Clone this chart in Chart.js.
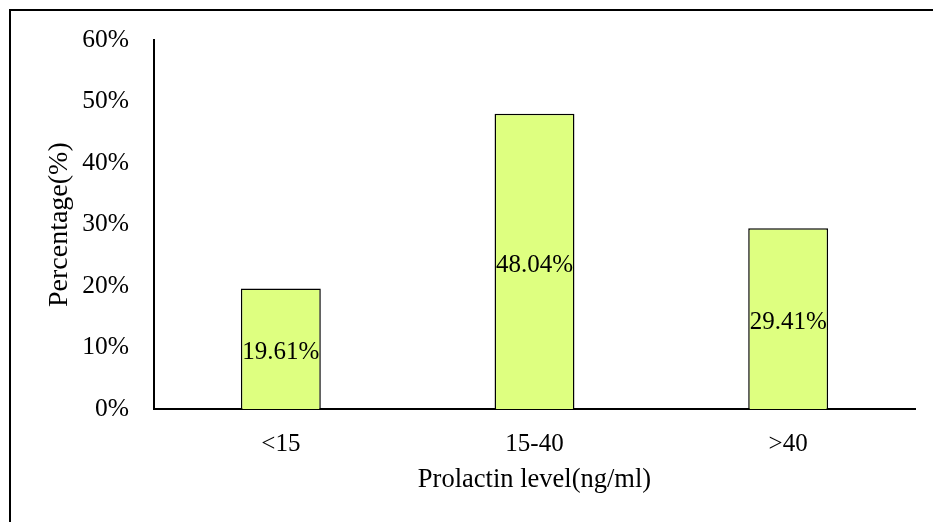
<!DOCTYPE html>
<html>
<head>
<meta charset="utf-8">
<script src="https://cdn.jsdelivr.net/npm/chart.js@4/dist/chart.umd.min.js"></script>
<style>
  html, body { margin: 0; padding: 0; background: #ffffff; }
  canvas { display: block; }
</style>
</head>
<body>
<canvas id="c" width="933" height="522"></canvas>
<script>
const categories = ['<15', '15-40', '>40'];
const percentages = [19.61, 48.04, 29.41];
const yTickValues = [0, 10, 20, 30, 40, 50, 60];
const xAxisTitle = 'Prolactin level(ng/ml)';
const yAxisTitle = 'Percentage(%)';

const FONT = 'Liberation Serif, Times New Roman, serif';

const frame = {
  id: 'frame',
  beforeDraw(chart) {
    const ctx = chart.ctx;
    ctx.save();
    ctx.fillStyle = '#ffffff';
    ctx.fillRect(0, 0, chart.width, chart.height);
    ctx.strokeStyle = '#000000';
    ctx.lineWidth = 2;
    ctx.strokeRect(10, 10, chart.width + 20, chart.height + 20);
    ctx.restore();
  }
};

const barLabels = {
  id: 'barLabels',
  afterDatasetsDraw(chart) {
    const ctx = chart.ctx;
    const meta = chart.getDatasetMeta(0);
    ctx.save();
    ctx.font = '25px ' + FONT;
    ctx.fillStyle = '#000000';
    ctx.textAlign = 'center';
    ctx.textBaseline = 'middle';
    meta.data.forEach((bar, i) => {
      const v = chart.data.datasets[0].data[i];
      const cy = (bar.y + bar.base) / 2;
      ctx.fillText(v.toFixed(2) + '%', bar.x, cy + 4);
    });
    ctx.restore();
  }
};

new Chart(document.getElementById('c'), {
  type: 'bar',
  data: {
    labels: categories,
    datasets: [{
      data: percentages,
      backgroundColor: 'rgb(222,255,128)',
      borderColor: '#000000',
      borderWidth: 1.5,
      barPercentage: 0.315,
      categoryPercentage: 1.0
    }]
  },
  options: {
    responsive: false,
    animation: false,
    layout: { padding: { top: 39, right: 18, bottom: 0, left: 0 } },
    plugins: {
      legend: { display: false },
      tooltip: { enabled: false }
    },
    scales: {
      x: {
        offset: true,
        grid: { display: false, drawTicks: false },
        border: { display: true, color: '#000000', width: 2 },
        ticks: { color: '#000000', font: { family: FONT, size: 25 }, padding: 20 },
        title: {
          display: true, text: xAxisTitle, color: '#000000',
          font: { family: FONT, size: 26.5 }, padding: { top: 0, bottom: 26 }
        },
        afterFit(scale) { scale.height = 113; }
      },
      y: {
        min: 0, max: 60,
        grid: { display: false, drawTicks: false },
        border: { display: true, color: '#000000', width: 2 },
        afterBuildTicks(scale) { scale.ticks = yTickValues.map(v => ({ value: v })); },
        ticks: {
          color: '#000000', font: { family: FONT, size: 25.5 }, padding: 25,
          callback: (v) => v + '%'
        },
        title: {
          display: true, text: yAxisTitle, color: '#000000',
          font: { family: FONT, size: 28 }, padding: { top: 43, bottom: 0 }
        },
        afterFit(scale) { scale.width = 154; }
      }
    }
  },
  plugins: [frame, barLabels]
});
</script>
</body>
</html>
